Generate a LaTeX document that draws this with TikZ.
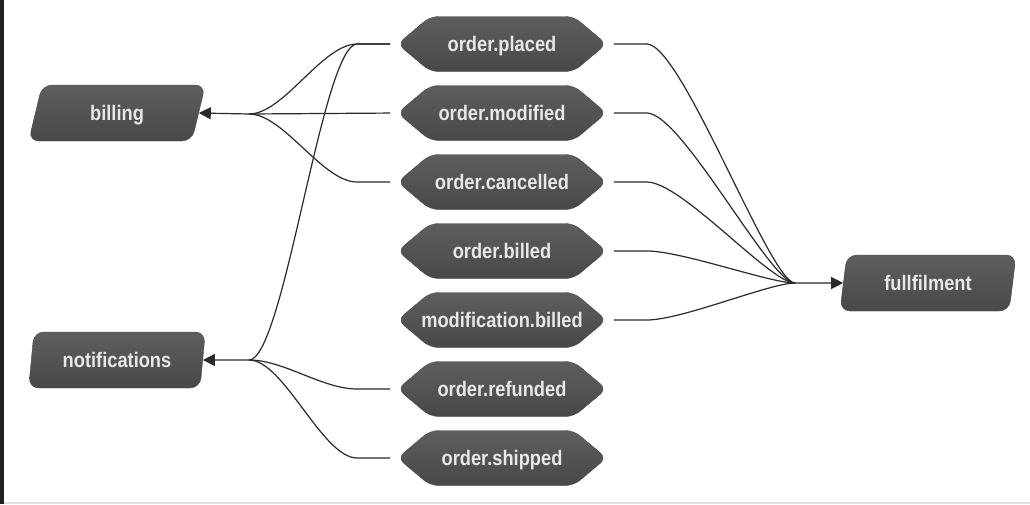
\documentclass[tikz,border=0pt]{standalone}
\usepackage{fontspec}
\setmainfont[FakeStretch=0.87]{Liberation Sans}
\usetikzlibrary{positioning,shapes.symbols,shapes.geometric,arrows.meta}

\definecolor{boxtop}{HTML}{5E5E5E}
\definecolor{boxbot}{HTML}{484848}
\definecolor{boxtext}{HTML}{E8E8E8}
\definecolor{wiregray}{HTML}{2A2A2A}

\tikzset{
  box/.style={top color=boxtop, bottom color=boxbot, draw=boxbot, text=boxtext,
    inner ysep=0pt, inner xsep=-12pt, text depth=0pt,
    font=\bfseries\fontsize{21}{22}\selectfont},
  topic/.style={box, signal, signal to=west and east, signal pointer angle=80,
    minimum width=209pt, minimum height=55pt, rounded corners=8pt},
  service/.style={box, trapezium, trapezium left angle=80, trapezium right angle=100,
    trapezium stretches=true, minimum width=177pt, minimum height=56pt, rounded corners=10pt},
  wire/.style={draw=wiregray, line width=1.2pt, shorten <=7pt},
  lbranch/.style={to path={-- ++(-40,0) .. controls +(-35,0) and +(35,0) .. (\tikztotarget)}},
  rbranch/.style={to path={-- ++(40,0) .. controls +(35,0) and +(-25,0) .. (\tikztotarget)}},
  arrow/.style={draw=wiregray, line width=1.2pt, -{Triangle[length=12pt,width=12pt]}}
}

\begin{document}
\begin{tikzpicture}[x=1pt,y=-1pt,node distance=69pt,on grid]
\fill[white] (0,0) rectangle (1030,504);
\useasboundingbox (0,0) rectangle (1030,504);
% screenshot edges
\fill[black!88] (0,0) rectangle (4,504);
\fill[black!12] (4,502) rectangle (1030,504);

% topics
\node[topic] (placed) at (502,44) {order.placed};
\node[topic] (modified) [below=of placed] {order.modified};
\node[topic] (cancelled) [below=of modified] {order.cancelled};
\node[topic] (billed) [below=of cancelled] {order.billed};
\node[topic] (modbilled) [below=of billed] {modification.billed};
\node[topic] (refunded) [below=of modbilled] {order.refunded};
\node[topic] (shipped) [below=of refunded] {order.shipped};

% services
\node[service] (billing) [left=385pt of modified] {billing};
\node[service] (notifications) at (117,360) {notifications};
\node[service] (fullfilment) at (928,283) {fullfilment};

\coordinate (billhub) at (249,114);
\coordinate (notehub) at (249,360);
\coordinate (fullhub) at (795,283);

% billing
\path[wire]
(placed.west) edge[lbranch] (billhub)
(cancelled.west) edge[lbranch] (billhub)
(modified.west) edge (billhub);
\draw[arrow] (billhub) -- (billing.east);

% notifications
\path[wire]
(placed.west) edge[lbranch] (notehub)
(refunded.west) edge[lbranch] (notehub)
(shipped.west) edge[lbranch] (notehub);
\draw[arrow] (notehub) -- (notifications.east);

% fullfilment
\path[wire]
(placed.east) edge[rbranch] (fullhub)
(modified.east) edge[rbranch] (fullhub)
(cancelled.east) edge[rbranch] (fullhub)
(billed.east) edge[rbranch] (fullhub)
(modbilled.east) edge[rbranch] (fullhub);
\draw[arrow] (fullhub) -- (fullfilment.west);
\end{tikzpicture}
\end{document}
